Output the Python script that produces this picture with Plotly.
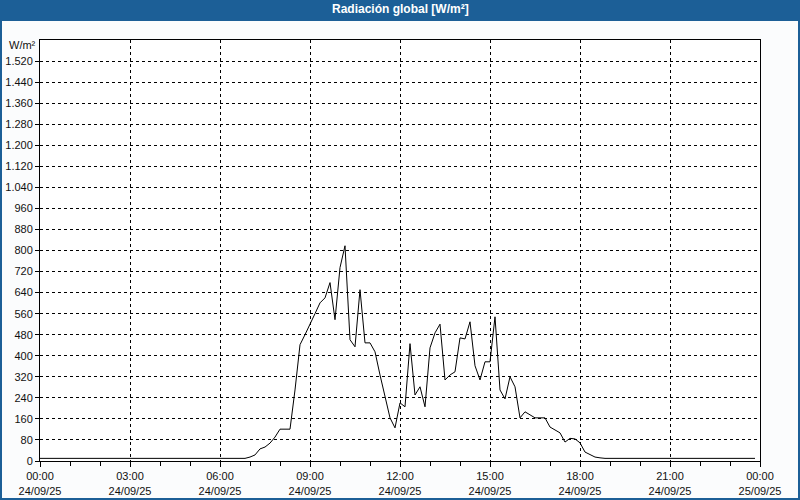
import plotly.graph_objects as go

# ---- data (10-minute samples) ----
times = ["00:00", "06:50", "07:00", "07:10", "07:20", "07:30", "07:40", "07:50",
         "08:00", "08:10", "08:20", "08:30", "08:40", "08:50", "09:00", "09:10",
         "09:20", "09:30", "09:40", "09:50", "10:00", "10:10", "10:20", "10:30",
         "10:40", "10:50", "11:00", "11:10", "11:20", "11:30", "11:40", "11:50",
         "12:00", "12:10", "12:20", "12:30", "12:40", "12:50", "13:00", "13:10",
         "13:20", "13:30", "13:40", "13:50", "14:00", "14:10", "14:20", "14:30",
         "14:40", "14:50", "15:00", "15:10", "15:20", "15:30", "15:40", "15:50",
         "16:00", "16:10", "16:20", "16:30", "16:40", "16:50", "17:00", "17:10",
         "17:20", "17:30", "17:40", "17:50", "18:00", "18:10", "18:20", "18:30",
         "18:40", "18:50", "23:50"]
radiation = [10, 10, 15, 23, 46, 53, 68, 91,
             121, 121, 121, 270, 442, 480, 518, 560,
             601, 620, 678, 537, 735, 818, 461, 434,
             651, 449, 449, 415, 327, 244, 164, 126,
             221, 206, 446, 251, 282, 206, 430, 487,
             520, 308, 327, 339, 468, 464, 529, 362,
             308, 377, 377, 548, 270, 236, 320, 282,
             164, 187, 175, 164, 164, 164, 129, 118,
             107, 72, 86, 84, 69, 34, 23, 15,
             12, 10, 10]
day = "2025-09-24"
y_ticks = list(range(0, 1521, 80))

x = [f"{day} {t}" for t in times]

FONT = "Liberation Sans, Arial, sans-serif"
BLUE = "#1c5f97"
TXT = "#111111"

fig = go.Figure()
fig.add_trace(go.Scatter(x=x, y=radiation, mode="lines",
                         line=dict(color="black", width=1),
                         hoverinfo="x+y", showlegend=False))

grid = dict(showgrid=True, gridcolor="black", gridwidth=1, griddash="3px,3px")

fig.update_layout(
    width=800, height=500,
    margin=dict(l=40, r=40, t=40, b=39),
    paper_bgcolor="#fbfcfd",
    plot_bgcolor="#ffffff",
    font=dict(family=FONT, size=11, color=TXT),
    separators=",.",
    xaxis=dict(type="date",
               range=["2025-09-24 00:00", "2025-09-25 00:00"],
               dtick=3 * 3600 * 1000, tick0="2025-09-24 00:00",
               tickformat="%H:%M<br>%d/%m/%y",
               ticks="outside", ticklen=5, tickcolor="black",
               minor=dict(dtick=3600 * 1000, ticks="outside", ticklen=4,
                          tickcolor="black", showgrid=False),
               showline=True, linecolor="black", linewidth=1, mirror=True,
               zeroline=False, automargin=False, **grid),
    yaxis=dict(range=[0, 1600], tickvals=y_ticks, tickformat=",d",
               ticks="outside", ticklen=4, tickcolor="black",
               showline=True, linecolor="black", linewidth=1, mirror=True,
               zeroline=False, automargin=False, **grid),
    annotations=[
        dict(text="<b>Radiación global [W/m²]</b>", x=0.5, xref="paper",
             y=1.0 + 31 / 421, yref="paper", showarrow=False,
             font=dict(color="white", size=12, family=FONT),
             xanchor="center", yanchor="middle"),
        dict(text="W/m²", x=-0.003, xref="paper", y=1.0 - 5 / 421, yref="paper",
             showarrow=False, xanchor="right", yanchor="middle",
             font=dict(size=11, family=FONT, color=TXT)),
    ],
)

# title bar and outer blue border in pixel-accurate paper coordinates
pw, ph = 720, 421
def px(xp):
    return (xp - 40) / pw
def py(yp):
    return (461 - yp) / ph
for (x0, y0, x1, y1) in [(0, 0, 800, 21), (0, 0, 2, 500), (798, 0, 800, 500),
                         (0, 498, 800, 500)]:
    fig.add_shape(type="rect", xref="paper", yref="paper",
                  x0=px(x0), x1=px(x1), y0=py(y1), y1=py(y0),
                  fillcolor=BLUE, line=dict(width=0), layer="below")

fig.write_html("out.html",
               config={"displayModeBar": False},
               post_script="document.body.style.margin='0';"
                           "document.body.style.overflow='hidden';")
